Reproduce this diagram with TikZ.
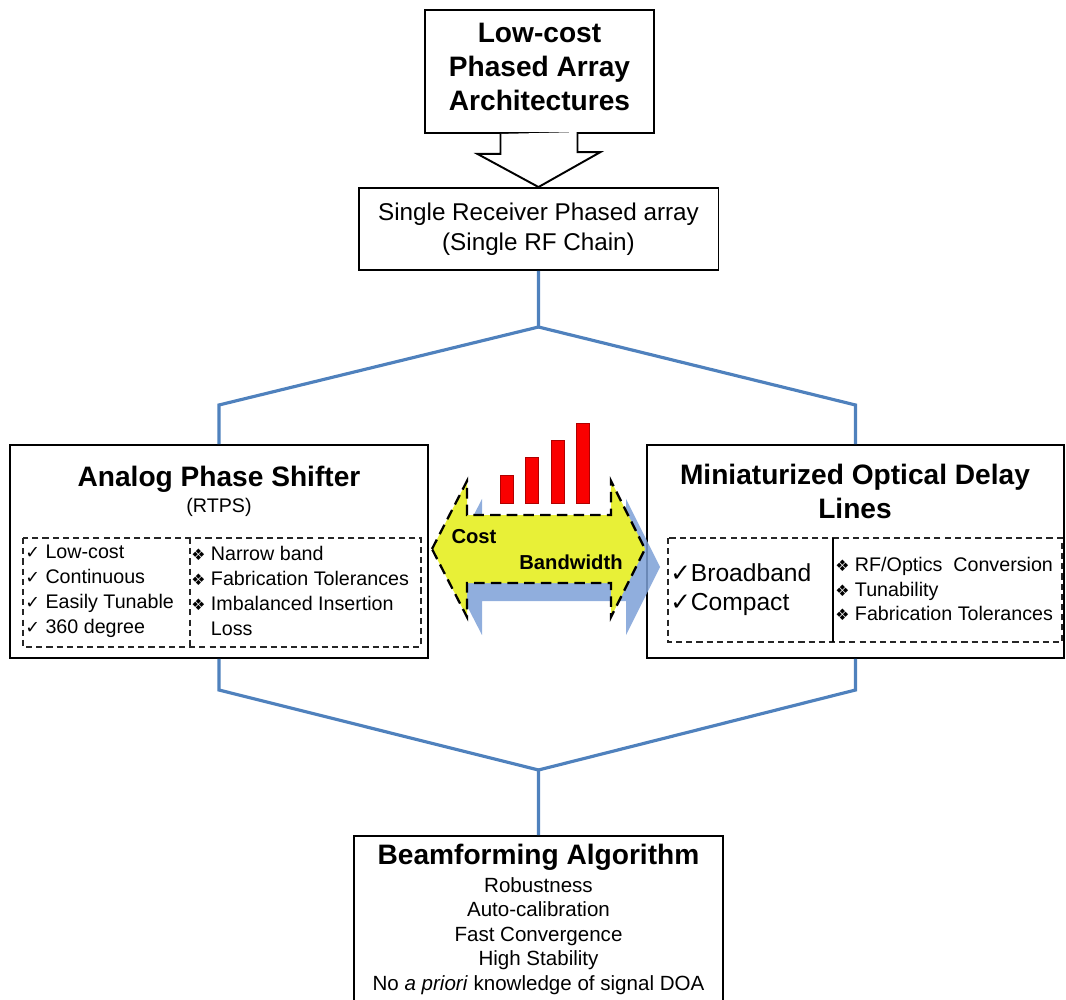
\documentclass[tikz,border=0pt]{standalone}
\usepackage{fontspec}
\setmainfont{Liberation Sans}
\newfontfamily\symFont{DejaVu Sans}
\usetikzlibrary{positioning}
\definecolor{linkColor}{RGB}{79,129,189}
\definecolor{shadowColor}{RGB}{125,160,215}
\definecolor{arrowYellow}{RGB}{232,240,55}
\definecolor{barRed}{RGB}{250,0,0}
\tikzstyle{canvas} = [x=0.02cm, y=-0.02cm]
\tikzstyle{boxStyle} = [draw=black, line width=1.1pt, fill=white, inner sep=0pt]
\tikzstyle{link} = [color=linkColor, line width=1.8pt]
\tikzstyle{dashBox} = [draw=black!85, line width=0.7pt, dash pattern=on 3.5pt off 2.3pt]
\tikzstyle{hollowArrow} = [draw=black, line width=1.1pt, fill=white, line join=miter]
\tikzstyle{tradeStyle} = [draw=black, fill=arrowYellow, line width=1.3pt, dash pattern=on 6pt off 3.5pt]
\tikzstyle{redBar} = [fill=barRed, draw=barRed!70!black, line width=0.3pt]
\tikzstyle{listText} = [font=\listFont, align=left, anchor=west, inner sep=0pt]
\newcommand{\titleFont}{\fontsize{16}{19.3}\selectfont\bfseries}
\newcommand{\midFont}{\fontsize{13.8}{17}\selectfont}
\newcommand{\listFont}{\fontsize{11.2}{14.2}\selectfont}
\newcommand{\bigListFont}{\fontsize{14}{16.5}\selectfont}
\newcommand{\arrowFont}{\fontsize{11.5}{13}\selectfont\bfseries}
\newcommand{\itemFont}{\fontsize{11.7}{13.9}\selectfont}
\newcommand{\proMark}{{\symFont\fontsize{10}{12}\selectfont ✓}}
\newcommand{\bigProMark}{{\symFont ✓}}
\newcommand{\conMark}{{\symFont\fontsize{9}{10}\selectfont ❖}}
\newcommand{\tradePath}{(432,549) -- (467,481) -- (467,515) -- (611,515) -- (611,481) -- (645,549) -- (611,617) -- (611,583) -- (467,583) -- (467,617) -- cycle}

\begin{document}
\begin{tikzpicture}[canvas]
       \useasboundingbox (0,0) rectangle (1066,1000);

       \coordinate (upperJoinLevel) at (0,327);
       \coordinate (upperLevel) at (0,405);
       \coordinate (lowerJoinLevel) at (0,770);
       \coordinate (lowerLevel) at (0,690);

       \node[boxStyle, minimum width=4.58cm, minimum height=2.46cm] (lowCost) at (539.5,71.5) {};
       \node[font=\titleFont, align=center] (lowCostText) at (539.5,67) {Low-cost\\Phased Array\\Architectures};
       \node[boxStyle, font=\midFont, align=center, minimum width=7.2cm, minimum height=1.64cm] (srpa) at (538.5,229) {Single Receiver Phased array\\(Single RF Chain)};
       \draw[hollowArrow] (lowCost.south) ++(-39,0) -- ++(0,20) -- ++(-23,0) -- (srpa.north) -- ++(62,-35) -- ++(-23,0) -- ++(0,-20);

       \node[boxStyle, minimum width=8.36cm, minimum height=4.26cm] (aps) at (219,551.5) {};
       \node[boxStyle, minimum width=8.34cm, minimum height=4.26cm] (modl) at (855.5,551.5) {};
       \node[boxStyle, minimum width=7.38cm, minimum height=3.4cm, anchor=north] (beam) at (538.5,835) {};

       \coordinate (topJoin) at (srpa.south |- upperJoinLevel);
       \coordinate (bottomJoin) at (beam.north |- lowerJoinLevel);
       \draw[link] (srpa.south) -- (topJoin) -- (aps.north |- upperLevel) -- (aps.north);
       \draw[link] (topJoin) -- (modl.north |- upperLevel) -- (modl.north);
       \draw[link] (aps.south) -- (aps.south |- lowerLevel) -- (bottomJoin) -- (beam.north);
       \draw[link] (modl.south) -- (modl.south |- lowerLevel) -- (bottomJoin);

       \node[font=\titleFont] (apsTitle) at (219,479) {Analog Phase Shifter};
       \node[font=\listFont] (apsSub) at (219,507) {(RTPS)};
       \draw[dashBox] (23,538) rectangle (421,647);
       \draw[dashBox] (190,538) -- (190,647);
       \node[listText] (apsPros) at (25,591) {\proMark\ Low-cost\\\proMark\ Continuous\\\proMark\ Easily Tunable\\\proMark\ 360 degree};
       \node[listText] (apsCons) at (191,591) {\conMark\ Narrow band\\\conMark\ Fabrication Tolerances\\\conMark\ Imbalanced Insertion\\\phantom{\conMark\ }Loss};

       \node[font=\titleFont, align=center] (modlTitle) at (855,491) {Miniaturized Optical Delay\\Lines};
       \draw[dashBox] (668,538) rectangle (1062,642);
       \draw[line width=0.6pt] (833,538) -- (833,642);
       \node[listText, font=\bigListFont] (modlPros) at (670,590) {\bigProMark{}Broadband\\\bigProMark{}Compact};
       \node[listText] (modlCons) at (835,589) {\conMark\ RF/Optics\ \ Conversion\\\conMark\ Tunability\\\conMark\ Fabrication Tolerances};

       \node[font=\titleFont] (beamTitle) at (538.5,857) {Beamforming Algorithm};
       \node[font=\itemFont, align=center] (beamItems) at (538.5,936) {Robustness\\Auto-calibration\\Fast Convergence\\High Stability\\No \emph{a priori} knowledge of signal DOA};

       \begin{scope}[shift={(15,18)}]
         \fill[shadowColor, opacity=.85] \tradePath;
       \end{scope}
       \filldraw[tradeStyle] \tradePath;
       \foreach \col/\ht in {0/28,1/46,2/63,3/80}
         \filldraw[redBar] (500+25.5*\col,503) rectangle +(13,-\ht);
       \node[font=\arrowFont] (costLabel) at (474,537) {Cost};
       \node[font=\arrowFont] (bandwidthLabel) at (571,562) {Bandwidth};
     \end{tikzpicture}
\end{document}
